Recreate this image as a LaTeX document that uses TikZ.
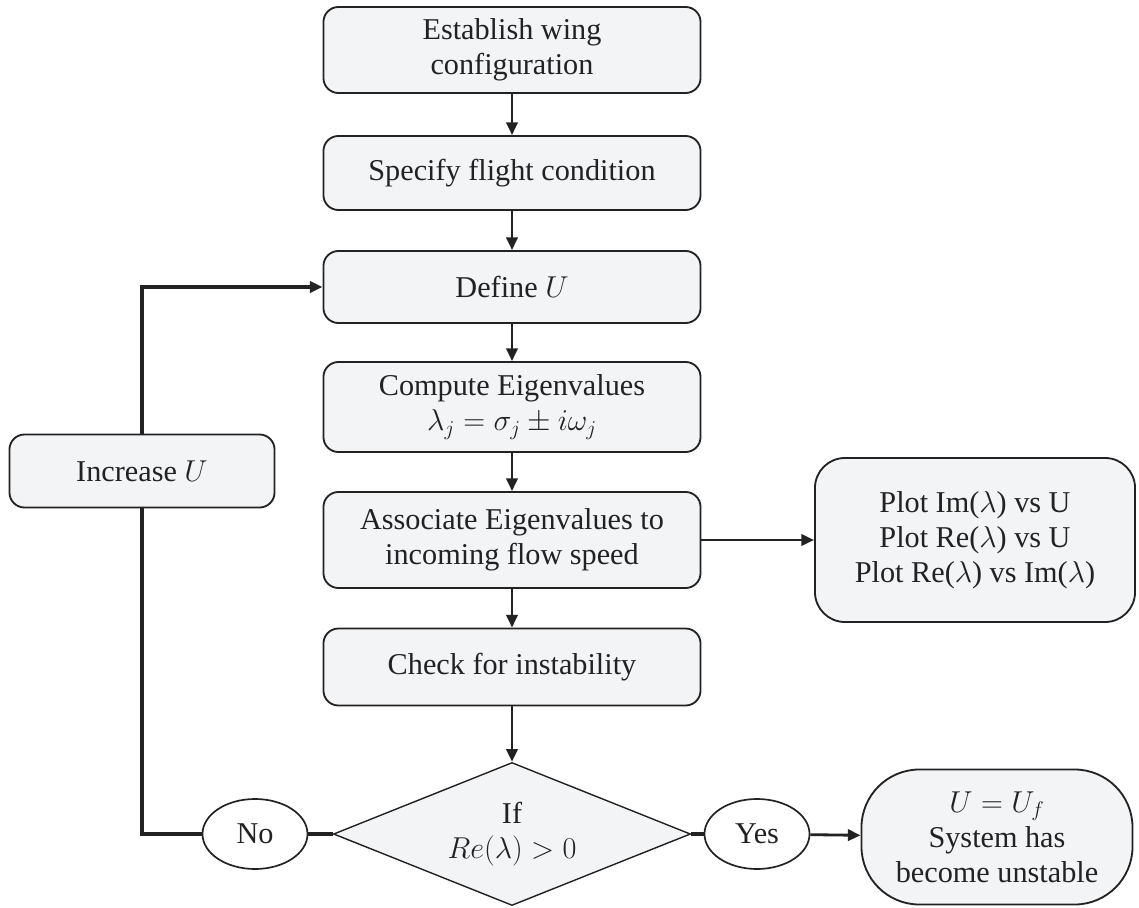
\RequirePackage{fix-cm}
\documentclass[tikz,border=0pt]{standalone}
\usepackage{fontspec}
\setmainfont{Liberation Serif}
\usetikzlibrary{arrows.meta,positioning,shapes}

\definecolor{boxfill}{HTML}{F3F4F6}
\definecolor{ink}{HTML}{222222}

\tikzset{
  stepbox/.style={draw=ink,line width=1.3pt,fill=boxfill,rounded corners=0.375cm,
    align=center,text=ink,font=\fontsize{21.5}{25}\selectfont,inner sep=2pt},
  answer/.style={draw=ink,line width=1.2pt,ellipse,fill=white,text=ink,
    font=\fontsize{21.5}{25}\selectfont,minimum width=2.625cm,minimum height=1.75cm,inner sep=0pt},
  flow/.style={-{Triangle[length=9pt,width=8pt]},line width=2pt,draw=ink},
  branch/.style={line width=2.8pt,draw=ink}
}

\begin{document}
\begin{tikzpicture}[x=0.025cm,y=-0.025cm]
\useasboundingbox (0,0) rectangle (1139,908);
% main column
\node[stepbox,minimum width=9.425cm,minimum height=2.15cm] (est) at (512,50) {Establish wing\\configuration};
\node[stepbox,minimum width=9.425cm,minimum height=1.85cm] (spec) at (512,173) {Specify flight condition};
\node[stepbox,minimum width=9.425cm,minimum height=1.8cm] (def) at (512,287) {Define $U$};
\node[stepbox,minimum width=9.425cm,minimum height=2.25cm] (comp) at (512,407) {Compute Eigenvalues\\$\lambda_j=\sigma_j\pm i\omega_j$};
\node[stepbox,minimum width=9.425cm,minimum height=2.4cm] (assoc) at (512,540) {Associate Eigenvalues to\\incoming flow speed};
\node[stepbox,minimum width=9.425cm,minimum height=1.925cm] (check) at (512,667) {Check for instability};
\node[stepbox,diamond,aspect=2.5,rounded corners=0pt,line width=1pt,minimum width=8.925cm,minimum height=3.575cm,inner sep=0pt] (cond) at (512,834) {If\\$Re(\lambda)>0$};
% side nodes
\node[stepbox,minimum width=6.625cm,minimum height=1.825cm] (inc) at (142,471) {Increase $U$};
\node[stepbox,rounded corners=0.75cm,minimum width=8cm,minimum height=4.1cm] (plot) at (975,540) {Plot Im($\lambda$) vs U\\Plot Re($\lambda$) vs U\\Plot Re($\lambda$) vs Im($\lambda$)};
\node[answer] (no) at (255,834) {No};
\node[answer] (yes) at (757,834) {Yes};
\node[stepbox,rounded corners=1.45cm,minimum width=6.775cm,minimum height=3.375cm] (unst) at (997,837) {$U=U_f$\\System has\\become unstable};
% connectors
\draw[flow] (est) -- (spec);
\draw[flow] (spec) -- (def);
\draw[flow] (def) -- (comp);
\draw[flow] (comp) -- (assoc);
\draw[flow] (assoc) -- (check);
\draw[flow] (check) -- (cond);
\draw[flow] (assoc) -- (plot);
\draw[branch] (cond.west) -- (no.east);
\draw[branch] (cond.east) -- (yes.west);
\draw[flow] (yes) -- (unst);
\draw[branch] (no.west) -| (inc.south);
\draw[flow,line width=2.6pt] (inc.north) |- (def.west);
\end{tikzpicture}
\end{document}
